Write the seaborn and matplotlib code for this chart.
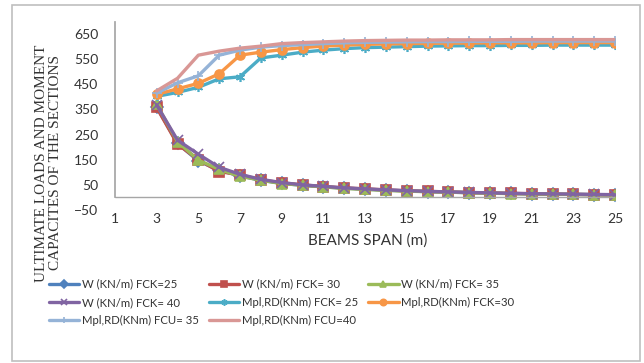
#!/usr/bin/env python3
"""Ultimate loads and moment capacities vs beam span."""
import pandas as pd
import matplotlib
matplotlib.use("Agg")
import matplotlib.pyplot as plt
import seaborn as sns
from matplotlib.patches import Rectangle

# 데이터
span = list(range(3, 26))

w_fck25 = [360, 215, 145, 108, 86, 68, 56, 48, 42, 37, 33, 29, 26, 23, 21, 19, 17, 16, 14, 13, 12, 11, 10]
w_fck30 = [358, 212, 150, 103, 90, 70, 58, 50, 43, 38, 34, 30, 26, 24, 22, 19, 18, 16, 15, 13, 12, 11, 10]
w_fck35 = [370, 222, 148, 112, 84, 69, 55, 49, 42, 36, 32, 28, 25, 23, 21, 19, 17, 15, 14, 13, 12, 11, 10]
w_fck40 = [368, 228, 172, 120, 92, 72, 59, 50, 44, 38, 34, 30, 27, 24, 22, 20, 18, 16, 15, 14, 13, 12, 11]
m_fck25 = [402, 418, 438, 472, 480, 555, 566, 578, 586, 592, 596, 598, 600, 602, 603, 604, 604, 605, 605, 606, 606, 606, 606]
m_fck30 = [410, 432, 454, 492, 566, 578, 588, 596, 602, 606, 609, 611, 612, 613, 614, 614, 615, 615, 615, 616, 616, 616, 616]
m_fcu35 = [415, 456, 484, 566, 586, 598, 604, 608, 612, 615, 617, 618, 619, 620, 620, 621, 621, 621, 622, 622, 622, 622, 622]
m_fcu40 = [424, 474, 566, 582, 594, 602, 612, 616, 619, 622, 624, 625, 626, 626, 627, 627, 627, 628, 628, 628, 628, 628, 628]

labels = [
    "W (KN/m) FCK=25", "W (KN/m) FCK= 30", "W (KN/m) FCK= 35",
    "W (KN/m) FCK= 40", "Mpl,RD(KNm) FCK= 25", "Mpl,RD(KNm) FCK=30",
    "Mpl,RD(KNm) FCU= 35", "Mpl,RD(KNm) FCU=40",
]
series = [w_fck25, w_fck30, w_fck35, w_fck40, m_fck25, m_fck30, m_fcu35, m_fcu40]
colors = ["#4F81BD", "#C0504D", "#9BBB59", "#8064A2",
          "#4BACC6", "#F79646", "#95B3D7", "#D99795"]
marker_list = ["D", "s", "^", "x", (6, 2, 0), "o", "+", ""]

x_ticks = list(range(1, 26, 2))
y_ticks = list(range(-50, 651, 100))

df = pd.concat(
    [pd.DataFrame({"span": span, "value": v, "series": lab}) for lab, v in zip(labels, series)],
    ignore_index=True,
)

sns.set_theme(style="white")
plt.rcParams["font.family"] = ["Lato", "DejaVu Sans"]

fig = plt.figure(figsize=(6.44, 3.63), dpi=100)
ax = fig.add_axes([115 / 644, (363 - 210) / 363, 500 / 644, (210 - 21.5) / 363])

for lab, col, mk in zip(labels, colors, marker_list):
    sub = df[df["series"] == lab]
    sns.lineplot(data=sub, x="span", y="value", ax=ax, color=col, linewidth=2.4,
                 marker=mk if mk else None, markersize=6.5, markeredgewidth=1.2,
                 markeredgecolor=col, label=lab, legend=False)

ax.set_xlim(1, 25)
ax.set_ylim(-50, 700)
ax.set_xticks(x_ticks)
ax.set_yticks(y_ticks)
ax.tick_params(axis="both", length=0, labelsize=10, colors="#333333")
ax.tick_params(axis="x", pad=2)
ax.tick_params(axis="y", pad=12)

for s in ["top", "right", "bottom"]:
    ax.spines[s].set_visible(False)
ax.spines["left"].set_color("#A6A6A6")
ax.spines["left"].set_bounds(0, 700)
ax.axhline(0, color="#A6A6A6", linewidth=1)

ax.set_xlabel("")
ax.set_ylabel("")
fig.text(368 / 644, (363 - 241) / 363, "BEAMS SPAN (m)", ha="center", va="center",
         fontsize=11, color="#333333")
fig.text(49 / 644, (363 - 163) / 363, "ULTIMATE LOADS AND MOMENT\nCAPACITES OF THE SECTIONS",
         rotation=90, ha="center", va="center", multialignment="center",
         fontsize=11, family="Liberation Serif", color="#333333", linespacing=1.1)

handles, labs = ax.get_legend_handles_labels()
order = [0, 3, 6, 1, 4, 7, 2, 5]
fig.legend([handles[i] for i in order], [labs[i] for i in order],
           loc="upper left", bbox_to_anchor=(44 / 644, (363 - 274) / 363),
           ncol=3, frameon=False, fontsize=8.2, handlelength=2.7,
           handletextpad=0.2, columnspacing=0.9, labelspacing=0.65,
           markerscale=0.7, labelcolor="#333333", borderaxespad=0)

fig.patches.append(Rectangle((12 / 644, 2 / 363), 628 / 644, 356 / 363,
                             transform=fig.transFigure, fill=False,
                             edgecolor="#BFBFBF", linewidth=1.2))

fig.savefig("out.png", dpi=100)
